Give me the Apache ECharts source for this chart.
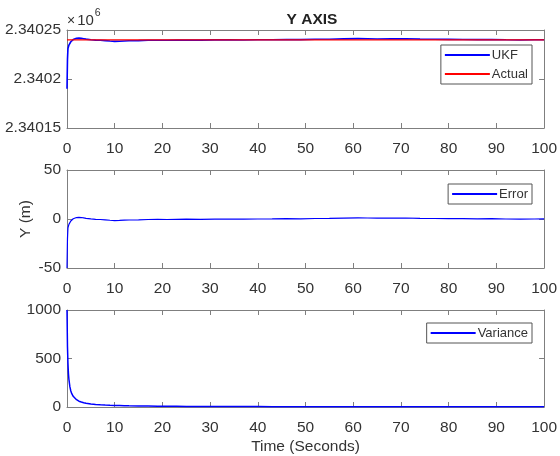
<!DOCTYPE html>
<html>
<head>
<meta charset="utf-8">
<script src="https://cdn.jsdelivr.net/npm/echarts@6/dist/echarts.min.js"></script>
<style>html,body{margin:0;padding:0;background:#fff;}#c{width:560px;height:456px;}</style>
</head>
<body>
<div id="c"></div>
<script>
// ---- data ----
const timeSec = [0, 0.1, 0.2, 0.3, 0.4, 0.6, 0.8, 1, 1.3, 1.6, 2, 2.5, 3, 3.5, 4, 5, 6, 7, 8, 9, 10, 11, 12, 13, 15, 17, 19, 21, 23, 25, 28, 31, 34, 37, 40, 43, 46, 49, 52, 55, 58, 61, 63, 65, 68, 71, 74, 77, 80, 83, 86, 89, 92, 95, 98, 100];
const ukfY = [2340190, 2340220, 2340231, 2340233, 2340234.5, 2340236.5, 2340238, 2340239, 2340240.2, 2340240.9, 2340241.5, 2340241.7, 2340241.5, 2340241.1, 2340240.7, 2340240.1, 2340239.7, 2340239.5, 2340239.2, 2340238.7, 2340238.4, 2340238.5, 2340238.8, 2340239, 2340239.2, 2340239.5, 2340239.6, 2340239.5, 2340239.7, 2340239.8, 2340239.7, 2340239.9, 2340240, 2340239.8, 2340240, 2340240.1, 2340240.3, 2340240.2, 2340240.5, 2340240.6, 2340240.9, 2340241.2, 2340241, 2340240.8, 2340240.9, 2340241, 2340240.7, 2340240.5, 2340240.4, 2340240.3, 2340240.2, 2340240.3, 2340240, 2340239.8, 2340240, 2340240.1];
const actualY = [2340240, 2340240, 2340240, 2340240, 2340240, 2340240, 2340240, 2340240, 2340240, 2340240, 2340240, 2340240, 2340240, 2340240, 2340240, 2340240, 2340240, 2340240, 2340240, 2340240, 2340240, 2340240, 2340240, 2340240, 2340240, 2340240, 2340240, 2340240, 2340240, 2340240, 2340240, 2340240, 2340240, 2340240, 2340240, 2340240, 2340240, 2340240, 2340240, 2340240, 2340240, 2340240, 2340240, 2340240, 2340240, 2340240, 2340240, 2340240, 2340240, 2340240, 2340240, 2340240, 2340240, 2340240, 2340240, 2340240];
const errorY = [-50, -20, -9, -7, -5.5, -3.5, -2, -1, 0.2, 0.9, 1.5, 1.7, 1.5, 1.1, 0.7, 0.1, -0.3, -0.5, -0.8, -1.3, -1.6, -1.5, -1.2, -1, -0.8, -0.5, -0.4, -0.5, -0.3, -0.2, -0.3, -0.1, 0, -0.2, 0, 0.1, 0.3, 0.2, 0.5, 0.6, 0.9, 1.2, 1, 0.8, 0.9, 1, 0.7, 0.5, 0.4, 0.3, 0.2, 0.3, 0, -0.2, 0, 0.1];
const varianceY = [1000, 620, 450, 345, 285, 210, 165, 137, 110, 92, 75, 60, 51, 44, 39, 31, 26, 22, 19.5, 17.5, 16, 14.5, 13, 12, 10.5, 9.3, 8.3, 7.5, 6.9, 6.3, 5.7, 5.1, 4.7, 4.3, 4, 3.7, 3.5, 3.2, 3.1, 2.9, 2.7, 2.6, 2.5, 2.4, 2.3, 2.2, 2.1, 2.0, 2.0, 1.9, 1.8, 1.8, 1.7, 1.7, 1.6, 1.6];
const topTickValues = [2340150, 2340200, 2340250];
const topTickLabels = ['2.34015', '2.3402', '2.34025'];
const xTickLabels = ['0', '10', '20', '30', '40', '50', '60', '70', '80', '90', '100'];

const FONT = "'Liberation Sans', Arial, Helvetica, sans-serif";
const AX = '#7f7f7f';
const TXT = '#333333';
const FS = 15.5;

const pairs = (ys) => timeSec.map((t, i) => [t, ys[i]]);

const grids = [
  {left: 67, top: 30, width: 480, height: 98},
  {left: 67, top: 170, width: 480, height: 98},
  {left: 67, top: 310, width: 480, height: 98}
];
const yRanges = [
  {min: 2340150, max: 2340250, interval: 50},
  {min: -50, max: 50, interval: 50},
  {min: 0, max: 1000, interval: 500}
];

const xAxes = [], yAxes = [];
grids.forEach((g, i) => {
  const base = {
    type: 'value', gridIndex: i, min: 0, max: 100, interval: 10,
    splitLine: {show: false},
    axisLine: {show: true, onZero: false, lineStyle: {color: AX, width: 1}},
    axisTick: {show: true, inside: true, length: 5, lineStyle: {color: AX}}
  };
  xAxes.push(Object.assign({}, base, {
    position: 'bottom',
    axisLabel: {show: true, margin: 13, fontSize: FS, color: TXT, fontFamily: FONT,
      formatter: (v) => xTickLabels[Math.round(v / 10)]},
    name: i === 2 ? 'Time (Seconds)' : '',
    nameLocation: 'middle', nameGap: 32, nameMoveOverlap: false,
    nameTextStyle: {fontSize: FS, color: TXT, fontFamily: FONT}
  }));
  xAxes.push(Object.assign({}, base, {position: 'top', axisLabel: {show: false}}));
  const yb = {
    type: 'value', gridIndex: i, min: yRanges[i].min, max: yRanges[i].max, interval: yRanges[i].interval,
    splitLine: {show: false},
    axisLine: {show: true, onZero: false, lineStyle: {color: AX, width: 1}},
    axisTick: {show: true, inside: true, length: 5, lineStyle: {color: AX}}
  };
  yAxes.push(Object.assign({}, yb, {
    position: 'left',
    axisLabel: {show: true, margin: 6, fontSize: FS, color: TXT, fontFamily: FONT,
      formatter: i === 0 ? (v) => topTickLabels[topTickValues.indexOf(Math.round(v))] : (v) => String(v)},
    name: i === 1 ? 'Y (m)' : '',
    nameLocation: 'middle', nameGap: 33, nameRotate: 90, nameMoveOverlap: false,
    nameTextStyle: {fontSize: FS, color: TXT, fontFamily: FONT}
  }));
  yAxes.push(Object.assign({}, yb, {position: 'right', axisLabel: {show: false}}));
});

const lg = (names, top) => ({
  data: names.map((n) => ({name: n, icon: 'rect'})), orient: 'vertical', right: 28, top: top,
  backgroundColor: '#fff', borderColor: '#555', borderWidth: 1, borderRadius: 0,
  padding: [3, 4, 3, 4], itemGap: 5, itemWidth: 45, itemHeight: 2,
  textStyle: {fontSize: 13, color: TXT, fontFamily: FONT, padding: [0, 0, 0, -3], lineHeight: 14},
  selectedMode: false
});

const option = {
  animation: false,
  backgroundColor: '#fff',
  textStyle: {fontFamily: FONT},
  title: {
    text: 'Y AXIS', left: 307, top: 7, textAlign: 'center',
    textStyle: {fontSize: 15.5, fontWeight: 'bold', color: '#222', fontFamily: FONT}
  },
  graphic: [{
    type: 'text', left: 67, top: 8,
    style: {
      text: '{x|×}{a|10}{b|6}',
      rich: {
        x: {fontSize: 14, fill: TXT, fontFamily: FONT, verticalAlign: 'bottom', lineHeight: 20, padding: [0, 2, 0, 0]},
        a: {fontSize: 15, fill: TXT, fontFamily: FONT, verticalAlign: 'bottom', lineHeight: 20},
        b: {fontSize: 10.5, fill: TXT, fontFamily: FONT, verticalAlign: 'top', lineHeight: 20, padding: [0, 0, 9, 1]}
      }
    }
  }],
  grid: grids,
  xAxis: xAxes,
  yAxis: yAxes,
  legend: [lg(['UKF', 'Actual'], 45), lg(['Error'], 184), lg(['Variance'], 323)],
  series: [
    {name: 'UKF', type: 'line', xAxisIndex: 0, yAxisIndex: 0, data: pairs(ukfY), symbol: 'none',
      lineStyle: {color: '#0000ff', width: 1.6}, itemStyle: {color: '#0000ff'}},
    {name: 'Actual', type: 'line', xAxisIndex: 0, yAxisIndex: 0, data: pairs(actualY), symbol: 'none',
      lineStyle: {color: '#ff0000', width: 1.2}, itemStyle: {color: '#ff0000'}},
    {name: 'Error', type: 'line', xAxisIndex: 2, yAxisIndex: 2, data: pairs(errorY), symbol: 'none',
      lineStyle: {color: '#0000ff', width: 1.2}, itemStyle: {color: '#0000ff'}},
    {name: 'Variance', type: 'line', xAxisIndex: 4, yAxisIndex: 4, data: pairs(varianceY), symbol: 'none',
      lineStyle: {color: '#0000ff', width: 1.5}, itemStyle: {color: '#0000ff'}}
  ]
};
const chart = echarts.init(document.getElementById('c'), null, {renderer: 'canvas'});
chart.setOption(option);
</script>
</body>
</html>
